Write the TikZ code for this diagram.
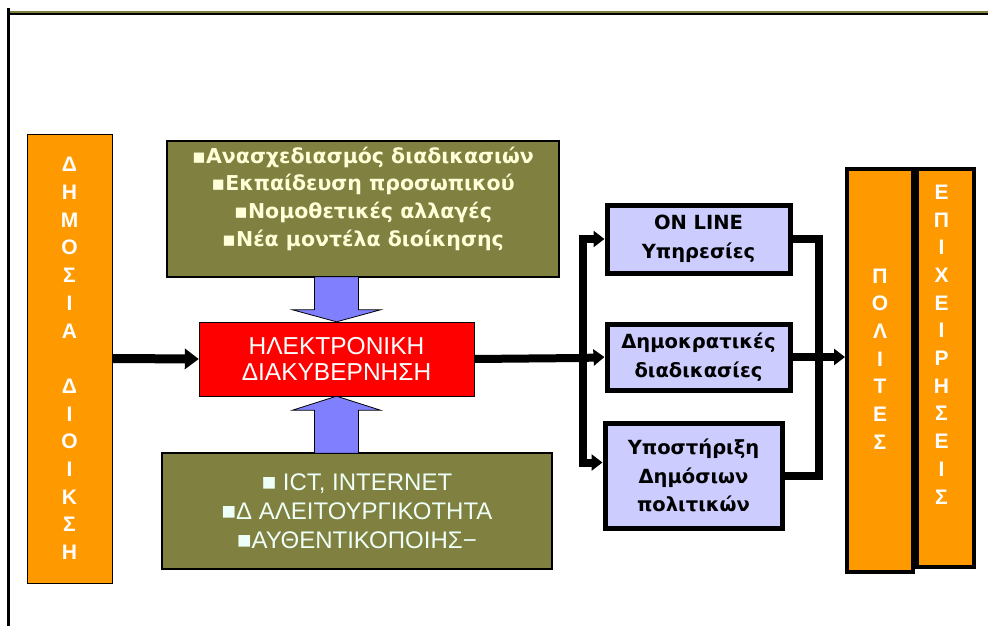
\documentclass[tikz,border=0pt]{standalone}
\usepackage{fontspec}
\setmainfont{Liberation Sans}
\newfontfamily\widesans{DejaVu Sans}
\usetikzlibrary{arrows.meta}

\definecolor{boxorange}{HTML}{FF9900}
\definecolor{boxolive}{HTML}{808040}
\definecolor{boxred}{HTML}{FF0000}
\definecolor{boxlilac}{HTML}{CCCCFF}
\definecolor{arrowblue}{HTML}{8080FF}
\definecolor{textcream}{HTML}{FFFFD8}
\definecolor{textmint}{HTML}{EEFFF8}

\tikzset{
  pillar/.style={draw, fill=boxorange, inner sep=0pt},
  letters/.style={align=center, text=white, font=\bfseries\fontsize{21}{27.7}\selectfont},
  plate/.style={draw, fill=boxolive, line width=1.2pt, inner sep=0pt},
  service/.style={draw, line width=5pt, fill=boxlilac, align=center, inner sep=0pt,
    font=\widesans\bfseries\fontsize{19.5}{28.5}\selectfont},
  link/.style={line width=8pt},
  linktip/.style={-{Triangle[length=11pt,width=16pt]}},
  blockarrow/.style={draw, fill=arrowblue, line width=0.8pt},
}

\begin{document}
\begin{tikzpicture}[x=1pt, y=-1pt]
\useasboundingbox (0,0) rectangle (988,626);

% frame
\draw[line width=3.5pt] (8.5,8) -- (8.5,626);
\draw[line width=2.5pt] (7,14) -- (988,14);
\draw[boxolive, line width=1.2pt] (10,12) -- (988,12);

% left column
\node[pillar, minimum width=85pt, minimum height=449pt, letters] (admin) at (69.5,358.5)
  {Δ\\Η\\Μ\\Ο\\Σ\\Ι\\Α\\ \\Δ\\Ι\\Ο\\Ι\\Κ\\Σ\\Η};

% olive boxes and the red centre
\node[plate, minimum width=392pt, minimum height=136pt] (tasks) at (363,209) {};
\node[align=center, text=textcream, font=\widesans\bfseries\fontsize{20.5}{27.7}\selectfont]
  (tasks-list) at (363,198.5)
  {▪Ανασχεδιασμός διαδικασιών\\▪Εκπαίδευση προσωπικού\\▪Νομοθετικές αλλαγές\\▪Νέα μοντέλα διοίκησης};
\node[draw, fill=boxred, minimum width=275pt, minimum height=74pt, align=center, text=white,
  font=\fontsize{24.5}{26}\selectfont] (egov) at (336.5,359) {ΗΛΕΚΤΡΟΝΙΚΗ\\ΔΙΑΚΥΒΕΡΝΗΣΗ};
\node[plate, minimum width=390pt, minimum height=116pt, align=center, text=textmint,
  font=\fontsize{24}{29}\selectfont] (tech) at (357,511)
  {■ ICT, INTERNET\\■Δ ΑΛΕΙΤΟΥΡΓΙΚΟΤΗΤΑ\\■ΑΥΘΕΝΤΙΚΟΠΟΙΗΣ−};

% block arrows into the red box
\draw[blockarrow] (egov.north) -- ++(44,-12) -- ++(-22,0) -- ++(0,-33) -- ++(-44,0)
  -- ++(0,33) -- ++(-22,0) -- cycle;
\draw[blockarrow] (egov.south) -- ++(44,14) -- ++(-22,0) -- ++(0,43) -- ++(-44,0)
  -- ++(0,-43) -- ++(-22,0) -- cycle;

% services
\node[service, minimum width=183pt, minimum height=68pt] (online) at (698.5,239)
  {ON LINE\\Υπηρεσίες};
\node[service, minimum width=183pt, minimum height=66pt] (demo) at (698.5,357)
  {Δημοκρατικές\\διαδικασίες};
\node[service, minimum width=177pt, minimum height=105pt] (policy) at (693.5,475.5)
  {Υποστήριξη\\Δημόσιων\\πολιτικών};

% right columns
\node[pillar, line width=4pt, minimum width=66pt, minimum height=403pt] (citizens) at (880,370.5) {};
\node[pillar, line width=4pt, minimum width=57pt, minimum height=398pt, anchor=north west]
  (business) at (citizens.north east) {};
\node[letters] (citizens-name) at (880,359) {Π\\Ο\\Λ\\Ι\\Τ\\Ε\\Σ};
\node[letters] (business-name) at (941.5,344.5) {Ε\\Π\\Ι\\Χ\\Ε\\Ι\\Ρ\\Η\\Σ\\Ε\\Ι\\Σ};

% connectors
\coordinate (fork) at (583,358);
\coordinate (merge) at (819,358);
\draw[line width=9pt, -{Triangle[length=14pt,width=20pt]}] (admin.east) -- (egov.west);
\draw[link] (egov.east) -- (fork);
\draw[link, linktip] (fork) |- (online.west);
\draw[link, linktip] (fork) -- (demo.west);
\draw[link, linktip] (fork) |- ([yshift=13pt]policy.west);
\draw[link] (online.east) -| (merge) |- (policy.east);
\draw[link, linktip] (demo.east) -- (demo.east -| citizens.west);
\end{tikzpicture}
\end{document}
